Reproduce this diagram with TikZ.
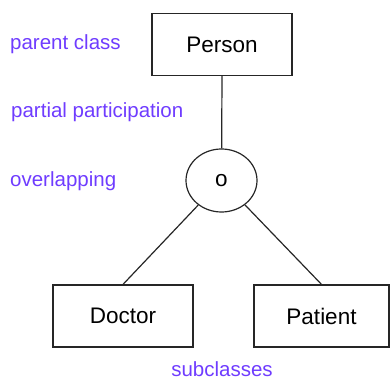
\documentclass[tikz,border=0pt]{standalone}
\usepackage{fontspec}
\setmainfont{Liberation Sans}
\usetikzlibrary{shapes.geometric}
\definecolor{notecol}{HTML}{6F3CFF}
\tikzset{
  entity/.style={draw=black!85, line width=1.2pt, minimum height=62pt, inner sep=0pt, font=\fontsize{22.5}{26}\selectfont},
  spec/.style={ellipse, draw=black!85, line width=1.2pt, minimum width=71pt, minimum height=63pt, inner sep=0pt, font=\fontsize{22.5}{26}\selectfont},
  note/.style={text=notecol, inner sep=0pt, font=\fontsize{20.5}{24}\selectfont},
  link/.style={draw=black!85, line width=1.2pt}
}
\begin{document}
\begin{tikzpicture}[x=1pt,y=-1pt]
\useasboundingbox (0,0) rectangle (390,379);
\node[entity, minimum width=140pt] (person) at (222,44.5) {Person};
\node[spec] (spec) at (221.5,180.5) {o};
\node[entity, minimum width=140pt] (doctor) at (123,316) {Doctor};
\node[entity, minimum width=135pt] (patient) at (321.5,316) {Patient};
\draw[link] (person.south) -- (spec);
\draw[link] (spec) -- (doctor.north);
\draw[link] (spec) -- (patient.north);
\node[note, anchor=west] (n1) at (10,44) {parent class};
\node[note, anchor=west] (n2) at (11,112) {partial participation};
\node[note, anchor=west] (n3) at (10,181) {overlapping};
\node[note] (n4) at (222,369) {subclasses};
\end{tikzpicture}
\end{document}
